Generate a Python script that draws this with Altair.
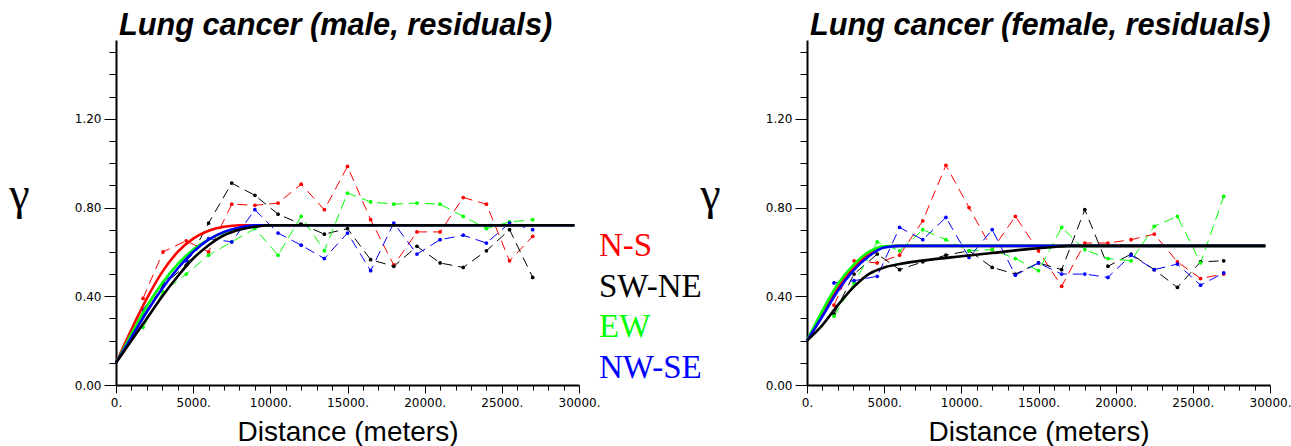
import altair as alt
import pandas as pd

# ---------------- data ----------------
directions = ["N-S", "SW-NE", "EW", "NW-SE"]
dir_colors = ["#ff0000", "#000000", "#00ff00", "#0000ff"]

# lag distances of the experimental variograms (meters)
lags = [1750, 3050, 4550, 6000, 7500, 9000, 10500, 12000, 13500,
        15000, 16500, 18000, 19500, 21000, 22500, 24000, 25500, 27000]

# male, experimental
male_ns = [0.39, 0.60, 0.65, 0.60, 0.815, 0.81, 0.82, 0.905, 0.79,
           0.985, 0.745, 0.54, 0.69, 0.69, 0.845, 0.815, 0.56, 0.67]
male_swne = [0.31, 0.45, 0.54, 0.73, 0.91, 0.855, 0.77, 0.725, 0.68,
             0.705, 0.565, 0.535, 0.625, 0.55, 0.53, 0.605, 0.70, 0.485]
male_ew = [0.26, 0.42, 0.50, 0.585, 0.645, 0.705, 0.585, 0.76, 0.605,
           0.865, 0.825, 0.815, 0.82, 0.815, 0.76, 0.705, 0.735, 0.745]
male_nwse = [0.34, 0.46, 0.56, 0.66, 0.645, 0.79, 0.685, 0.63, 0.57,
             0.685, 0.515, 0.73, 0.59, 0.655, 0.675, 0.64, 0.73, 0.70]

# female, experimental
female_ns = [0.36, 0.56, 0.55, 0.585, 0.74, 0.99, 0.80, 0.61, 0.76,
             0.605, 0.445, 0.64, 0.64, 0.655, 0.68, 0.555, 0.48, 0.50]
female_swne = [0.32, 0.50, 0.59, 0.52, 0.555, 0.585, 0.605, 0.53, 0.50,
               0.55, 0.52, 0.79, 0.535, 0.59, 0.52, 0.44, 0.555, 0.56]
female_ew = [0.31, 0.46, 0.645, 0.605, 0.70, 0.655, 0.605, 0.61, 0.57,
             0.515, 0.71, 0.61, 0.57, 0.56, 0.715, 0.76, 0.55, 0.85]
female_nwse = [0.46, 0.47, 0.49, 0.71, 0.655, 0.755, 0.575, 0.70, 0.495,
               0.55, 0.50, 0.50, 0.485, 0.585, 0.52, 0.545, 0.45, 0.505]

# fitted model curves
male_model_dist = [0, 1000, 2000, 3000, 4000, 5000, 6000, 7000, 8000,
                   9000, 10000, 11000, 29700]
male_model_ns = [0.10, 0.25, 0.39, 0.51, 0.60, 0.66, 0.695, 0.713, 0.72,
                 0.72, 0.72, 0.72, 0.72]
male_model_ew = [0.10, 0.23, 0.355, 0.46, 0.545, 0.61, 0.655, 0.688, 0.707,
                 0.716, 0.72, 0.72, 0.72]
male_model_nwse = [0.10, 0.215, 0.33, 0.435, 0.525, 0.60, 0.655, 0.69, 0.71,
                   0.72, 0.72, 0.72, 0.72]
male_model_swne = [0.10, 0.20, 0.30, 0.40, 0.49, 0.57, 0.63, 0.675, 0.70,
                   0.713, 0.72, 0.72, 0.72]

female_model_dist = [0, 1000, 2000, 3000, 4000, 5000, 6000, 8000, 10000,
                     12000, 14000, 16000, 17000, 29700]
female_model_ns = [0.20, 0.32, 0.44, 0.525, 0.59, 0.622, 0.627, 0.627, 0.627,
                   0.627, 0.627, 0.627, 0.627, 0.627]
female_model_ew = [0.20, 0.335, 0.455, 0.54, 0.60, 0.625, 0.627, 0.627, 0.627,
                   0.627, 0.627, 0.627, 0.627, 0.627]
female_model_nwse = [0.20, 0.31, 0.425, 0.515, 0.58, 0.62, 0.627, 0.627, 0.627,
                     0.627, 0.627, 0.627, 0.627, 0.627]
female_model_swne = [0.20, 0.27, 0.36, 0.44, 0.50, 0.53, 0.545, 0.565, 0.58,
                     0.595, 0.61, 0.622, 0.627, 0.627]

y_tick_values = [0.0, 0.1, 0.2, 0.3, 0.4, 0.5, 0.6, 0.7, 0.8, 0.9,
                 1.0, 1.1, 1.2, 1.3, 1.4, 1.5]
x_tick_values = list(range(0, 30001, 1000))

titles = ["Lung cancer (male, residuals)", "Lung cancer (female, residuals)"]

# ---------------- helpers ----------------
color_scale = alt.Scale(domain=directions, range=dir_colors)
W, H = 463, 345


def exp_frame(series_list):
    rows = []
    for d, vals in zip(directions, series_list):
        for x, v in zip(lags, vals):
            rows.append({"dir": d, "dist": x, "gamma": v})
    return pd.DataFrame(rows)


def model_frame(dist, vals, d):
    return pd.DataFrame({"dir": d, "dist": dist, "gamma": vals})


major_y = "round(datum.value*10) % 4 == 0"
y_axis = alt.Axis(
    values=y_tick_values,
    labelExpr=f"({major_y}) ? format(datum.value, '.2f') : ''",
    tickSize={"condition": {"test": major_y, "value": 12}, "value": 7},
    labelFont="DejaVu Sans", labelFontSize=12, labelColor="black",
    labelPadding=3, labelOverlap=False, labelBound=False, labelFlush=False,
    domainColor="black", domainWidth=2, tickColor="black", tickWidth=1,
    grid=False,
    title="γ", titleAngle=0, titleFont="Liberation Serif", titleFontSize=46,
    titleFontWeight="normal", titleColor="black", titleAlign="center",
    titleBaseline="alphabetic", titleX=-97, titleY=168,
)

major_x = "datum.value % 5000 == 0"
x_axis = alt.Axis(
    values=x_tick_values,
    labelExpr=f"({major_x}) ? datum.value + '.' : ''",
    tickSize={"condition": {"test": major_x, "value": 8}, "value": 5},
    labelFont="DejaVu Sans", labelFontSize=12, labelColor="black",
    labelPadding=4, labelOverlap=False, labelBound=False, labelFlush=False,
    domainColor="black", domainWidth=2, tickColor="black", tickWidth=1,
    grid=False,
    title="Distance (meters)", titleFont="Liberation Sans", titleFontSize=28,
    titleFontWeight="normal", titleColor="black", titlePadding=10,
)

X = alt.X("dist:Q", axis=x_axis, scale=alt.Scale(domain=[0, 30000], nice=False, zero=False))
Y = alt.Y("gamma:Q", axis=y_axis, scale=alt.Scale(domain=[0, 1.555], nice=False, zero=False))
C = alt.Color("dir:N", scale=color_scale, legend=None)


def panel(exp_series, model_dist, model_series, title, with_legend):
    edf = exp_frame(exp_series)
    base = alt.Chart(edf)
    lines = base.mark_line(strokeWidth=1, strokeDash=[10, 6]).encode(
        x=X, y=Y, color=C, detail="dir:N", order="dist:Q")
    dots = base.mark_circle(size=14, opacity=1).encode(x=X, y=Y, color=C)
    layers = [lines, dots]
    # model curves: drawn red, green, blue, black (black on top)
    for d in ["N-S", "EW", "NW-SE", "SW-NE"]:
        idx = directions.index(d)
        mdf = model_frame(model_dist, model_series[idx], d)
        layers.append(
            alt.Chart(mdf).mark_line(strokeWidth=2.6, interpolate="monotone").encode(
                x=X, y=Y, color=C))
    if with_legend:
        for i, d in enumerate(directions):
            layers.append(
                alt.Chart(pd.DataFrame({"t": [d]})).mark_text(
                    align="left", baseline="alphabetic", font="Liberation Serif",
                    fontSize=33, color=dir_colors[i]).encode(
                    text="t:N", x=alt.value(483), y=alt.value(216 + 40.5 * i)))
    return alt.layer(*layers).properties(
        width=W, height=H,
        title=alt.TitleParams(
            title, anchor="start", frame="group", fontSize=30.7,
            font="Liberation Sans", fontStyle="italic", fontWeight="bold",
            color="black", offset=-26, dx=3, baseline="alphabetic"),
    )


left = panel([male_ns, male_swne, male_ew, male_nwse], male_model_dist,
             [male_model_ns, male_model_swne, male_model_ew, male_model_nwse],
             titles[0], True)
right = panel([female_ns, female_swne, female_ew, female_nwse], female_model_dist,
              [female_model_ns, female_model_swne, female_model_ew, female_model_nwse],
              titles[1], False)

chart = alt.hconcat(left, right, spacing=228, bounds="flush").properties(
    padding={"left": 8, "top": 10, "right": 0, "bottom": 0}
).configure(background="white").configure_view(stroke=None)

chart.save("out.html", embed_options={"renderer": "svg", "actions": False})
